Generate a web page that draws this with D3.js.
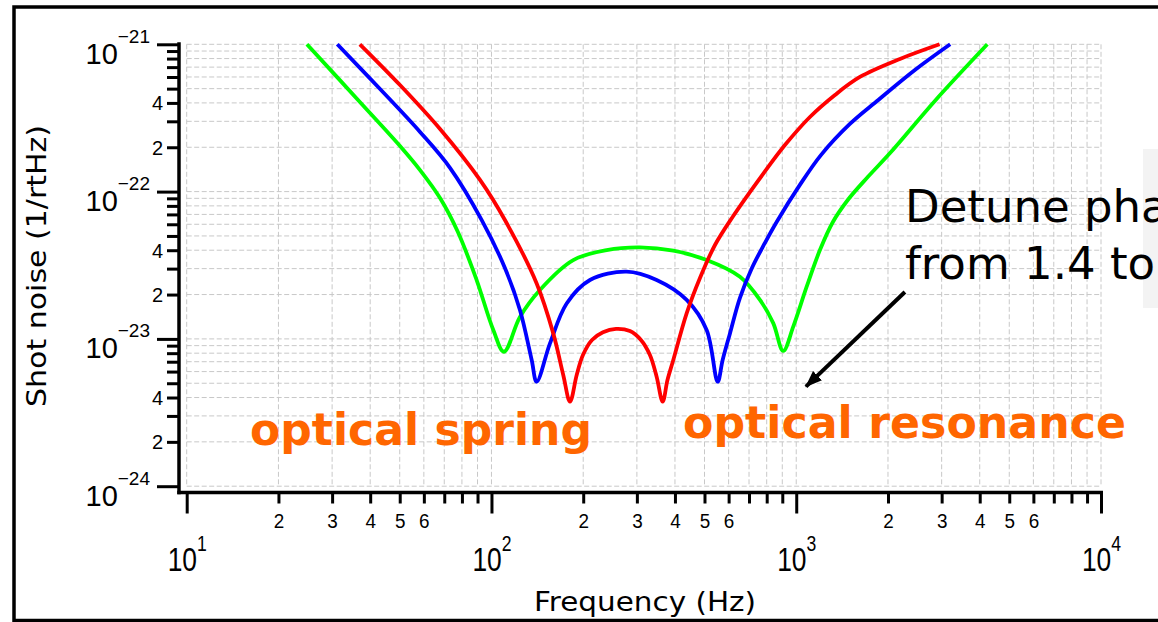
<!DOCTYPE html>
<html>
<head>
<meta charset="utf-8">
<script src="https://cdn.jsdelivr.net/npm/d3@7"></script>
<style>
	html, body { margin: 0; padding: 0; background: #fff; overflow: hidden; }
	svg { display: block; }
</style>
</head>
<body>
<svg id="chart" width="1158" height="622"></svg>
<script>
// shot noise curves (frequency in Hz, noise in 1/rtHz)
var redFreq = [37.0, 50.1, 67.8, 91.7, 110.7, 140.7, 159.5, 172.0, 181.0, 190.4, 199.6, 213.7, 232.2, 256.2, 284.7, 309.4, 331.1, 348.3, 364.5, 378.0, 395.0, 436.9, 483.2, 541.2, 621.3, 781.0, 918.2, 1109, 1340, 1618, 2189, 2953];
var redNoise = [1e-21, 5.29e-22, 2.66e-22, 1.20e-22, 6.41e-23, 2.38e-23, 1.09e-23, 5.69e-24, 3.75e-24, 5.69e-24, 7.77e-24, 9.83e-24, 1.11e-23, 1.17e-23, 1.13e-23, 9.83e-24, 7.77e-24, 5.54e-24, 3.75e-24, 5.26e-24, 7.19e-24, 1.49e-23, 2.59e-23, 4.34e-23, 6.83e-23, 1.33e-22, 2.07e-22, 3.21e-22, 4.53e-22, 6.00e-22, 7.95e-22, 1e-21];

var blueFreq = [31.2, 43.1, 58.3, 73.1, 92.9, 110.7, 124.0, 135.5, 140.7, 155.6, 176.5, 210.5, 277.7, 348.3, 436.9, 508.2, 552.3, 573.5, 606.1, 653.6, 715.6, 789.3, 862.4, 1028, 1205, 1500, 1859, 2451, 3200];
var blueNoise = [1e-21, 4.97e-22, 2.54e-22, 1.45e-22, 6.41e-23, 3.03e-23, 1.57e-23, 7.19e-24, 5.12e-24, 9.33e-24, 1.74e-23, 2.51e-23, 2.86e-23, 2.51e-23, 1.84e-23, 1.15e-23, 5.12e-24, 7.19e-24, 1.09e-23, 1.90e-23, 3.03e-23, 4.48e-23, 6.22e-23, 1.11e-22, 1.77e-22, 2.88e-22, 4.19e-22, 6.69e-22, 1e-21];

var greenFreq = [24.8, 37.0, 50.1, 58.3, 67.8, 77.6, 89.4, 101.4, 109.9, 124.0, 144.2, 185.5, 238.8, 307.0, 395.0, 508.2, 653.6, 760.2, 840.5, 906.4, 977.7, 1082, 1196, 1319, 1476, 1719, 2028, 2869, 4236];
var greenNoise = [1e-21, 4.06e-22, 2.04e-22, 1.40e-22, 9.05e-23, 5.32e-23, 2.51e-23, 1.15e-23, 8.18e-24, 1.41e-23, 2.15e-23, 3.43e-23, 4.01e-23, 4.18e-23, 3.97e-23, 3.43e-23, 2.64e-23, 1.84e-23, 1.28e-23, 8.28e-24, 1.21e-23, 2.26e-23, 4.01e-23, 6.22e-23, 8.77e-23, 1.26e-22, 1.82e-22, 4.19e-22, 1e-21];

// ticks
var xDecades = [10, 100, 1000, 10000];
var xMinorLabels = [2, 3, 4, 5, 6];
var yDecades = [1e-24, 1e-23, 1e-22, 1e-21];
var yMinorLabels = [2, 4];

// arrow (tail, tip) in data units
var arrowFreq = [2273, 1076];
var arrowNoise = [2.08e-23, 4.74e-24];

var svg = d3.select('#chart');

var x = d3.scaleLog().domain([10, 1e4]).range([186.7, 1101]);
var y = d3.scaleLog().domain([1e-24, 1e-21]).range([486.2, 44.3]);

var xAxisY = 492.5, yAxisX = 179;

function minors(decades) {
	var out = [];
	decades.slice(0, -1).forEach(function(d) {
		for (var k = 2; k <= 9; k++) out.push(d * k);
	});
	return out;
}
function mantissa(d) {
	return Math.round(d / Math.pow(10, Math.floor(Math.log10(d) + 1e-9)));
}
var xMinor = minors(xDecades), yMinor = minors(yDecades);

// outer frame
svg.append('rect')
	.attr('x', 14).attr('y', 7).attr('width', 1200).attr('height', 613.5)
	.attr('fill', 'none').attr('stroke', '#000').attr('stroke-width', 3.5);

// grey box behind the clipped note
svg.append('rect')
	.attr('x', 1143).attr('y', 149).attr('width', 20).attr('height', 159)
	.attr('fill', '#f3f3f3');

// grid
var grid = svg.append('g')
	.attr('stroke', '#c8c8c8').attr('stroke-width', 1).attr('stroke-dasharray', '5,2.5');
grid.selectAll('.vg').data(xDecades.concat(xMinor)).enter().append('line')
	.attr('x1', function(d) { return x(d); }).attr('x2', function(d) { return x(d); })
	.attr('y1', y(1e-21)).attr('y2', y(1e-24));
grid.selectAll('.hg').data(yDecades.concat(yMinor)).enter().append('line')
	.attr('y1', function(d) { return y(d); }).attr('y2', function(d) { return y(d); })
	.attr('x1', x(10)).attr('x2', x(1e4));

// axes
function styleAxis(g) {
	g.select('.domain').remove();
	g.selectAll('.tick line').attr('stroke', '#000').attr('stroke-width', 3);
	g.selectAll('.tick text').remove();
}

var yMinorG = svg.append('g').attr('transform', 'translate(' + yAxisX + ',0)')
	.call(d3.axisLeft(y).tickValues(yMinor).tickSize(12).tickFormat(''))
	.call(styleAxis);
var yMajorG = svg.append('g').attr('transform', 'translate(' + yAxisX + ',0)')
	.call(d3.axisLeft(y).tickValues(yDecades).tickSize(22).tickFormat(''))
	.call(styleAxis);
var xMinorG = svg.append('g').attr('transform', 'translate(0,' + xAxisY + ')')
	.call(d3.axisBottom(x).tickValues(xMinor).tickSize(11).tickFormat(''))
	.call(styleAxis);
var xMajorG = svg.append('g').attr('transform', 'translate(0,' + xAxisY + ')')
	.call(d3.axisBottom(x).tickValues(xDecades).tickSize(21).tickFormat(''))
	.call(styleAxis);

// axis lines
svg.append('line')
	.attr('x1', yAxisX).attr('x2', yAxisX).attr('y1', y(1e-21) - 2).attr('y2', xAxisY + 1.75)
	.attr('stroke', '#000').attr('stroke-width', 3.5);
svg.append('line')
	.attr('x1', yAxisX - 1.75).attr('x2', x(1e4) + 2).attr('y1', xAxisY).attr('y2', xAxisY)
	.attr('stroke', '#000').attr('stroke-width', 3.5);

var tickFont = 'Liberation Sans, Arial, sans-serif';

// y labels
yMajorG.selectAll('.tick').append('text')
	.attr('x', -29).attr('y', 19)
	.attr('text-anchor', 'end').attr('fill', '#000')
	.style('font-family', tickFont)
	.each(function(d) {
		var t = d3.select(this);
		t.append('tspan').style('font-size', '29px').text('10');
		t.append('tspan').style('font-size', '19px').attr('dy', -21)
			.text('\u2212' + Math.round(-Math.log10(d)));
	});
yMinorG.selectAll('.tick')
	.filter(function(d) { return yMinorLabels.indexOf(mantissa(d)) >= 0; })
	.append('text')
	.attr('x', -16).attr('y', 7)
	.attr('text-anchor', 'end').attr('fill', '#000')
	.style('font-family', tickFont).style('font-size', '20px')
	.text(mantissa);

// x labels
xMajorG.selectAll('.tick').append('text')
	.attr('transform', 'translate(0,78) scale(0.8,1)')
	.attr('text-anchor', 'middle').attr('fill', '#000')
	.style('font-family', tickFont)
	.each(function(d) {
		var t = d3.select(this);
		t.append('tspan').style('font-size', '33px').text('10');
		t.append('tspan').style('font-size', '22px').attr('dy', -20)
			.text(Math.round(Math.log10(d)));
	});
xMinorG.selectAll('.tick')
	.filter(function(d) { return xMinorLabels.indexOf(mantissa(d)) >= 0; })
	.append('text')
	.attr('transform', 'translate(0,35) scale(0.9,1)')
	.attr('text-anchor', 'middle').attr('fill', '#000')
	.style('font-family', tickFont).style('font-size', '21px')
	.text(mantissa);

// axis titles
svg.append('text')
	.attr('x', 645).attr('y', 611)
	.attr('text-anchor', 'middle')
	.attr('textLength', 222).attr('lengthAdjust', 'spacingAndGlyphs')
	.style('font-family', 'DejaVu Sans, sans-serif').style('font-size', '26px')
	.text('Frequency (Hz)');
svg.append('text')
	.attr('transform', 'translate(46,266) rotate(-90)')
	.attr('text-anchor', 'middle')
	.attr('textLength', 282).attr('lengthAdjust', 'spacingAndGlyphs')
	.style('font-family', 'DejaVu Sans, sans-serif').style('font-size', '27px')
	.text('Shot noise (1/rtHz)');

// curves
var series = [
	{ color: '#00ff00', f: greenFreq, n: greenNoise },
	{ color: '#0000ff', f: blueFreq, n: blueNoise },
	{ color: '#ff0000', f: redFreq, n: redNoise }
];
var line = d3.line()
	.x(function(d) { return x(d[0]); })
	.y(function(d) { return y(d[1]); })
	.curve(d3.curveCatmullRom.alpha(0.5));

svg.append('g').selectAll('path').data(series).enter().append('path')
	.attr('d', function(s) { return line(d3.zip(s.f, s.n)); })
	.attr('fill', 'none')
	.attr('stroke', function(s) { return s.color; })
	.attr('stroke-width', 3.8)
	.attr('stroke-linejoin', 'round');

// annotations
svg.append('text')
	.attr('x', 250).attr('y', 445)
	.attr('textLength', 342).attr('lengthAdjust', 'spacingAndGlyphs')
	.attr('fill', '#ff6600')
	.style('font-family', 'DejaVu Sans, sans-serif').style('font-weight', 'bold').style('font-size', '44px')
	.text('optical spring');
svg.append('text')
	.attr('x', 683).attr('y', 438)
	.attr('textLength', 443).attr('lengthAdjust', 'spacingAndGlyphs')
	.attr('fill', '#ff6600')
	.style('font-family', 'DejaVu Sans, sans-serif').style('font-weight', 'bold').style('font-size', '44px')
	.text('optical resonance');

var note = svg.append('text')
	.attr('fill', '#000')
	.style('font-family', 'DejaVu Sans, sans-serif').style('font-size', '45px');
note.append('tspan').attr('x', 905).attr('y', 222).text('Detune phase');
note.append('tspan').attr('x', 905).attr('y', 279).text('from 1.4 to');

svg.append('defs').append('marker')
	.attr('id', 'head')
	.attr('markerUnits', 'userSpaceOnUse')
	.attr('markerWidth', 20).attr('markerHeight', 16)
	.attr('refX', 16).attr('refY', 0)
	.attr('viewBox', '0 -8 20 16')
	.attr('orient', 'auto')
	.append('path').attr('d', 'M0,-6.5L17,0L0,6.5Z').attr('fill', '#000');

svg.append('line')
	.attr('x1', x(arrowFreq[0])).attr('y1', y(arrowNoise[0]))
	.attr('x2', x(arrowFreq[1])).attr('y2', y(arrowNoise[1]))
	.attr('stroke', '#000').attr('stroke-width', 4)
	.attr('marker-end', 'url(#head)');
</script>
</body>
</html>
